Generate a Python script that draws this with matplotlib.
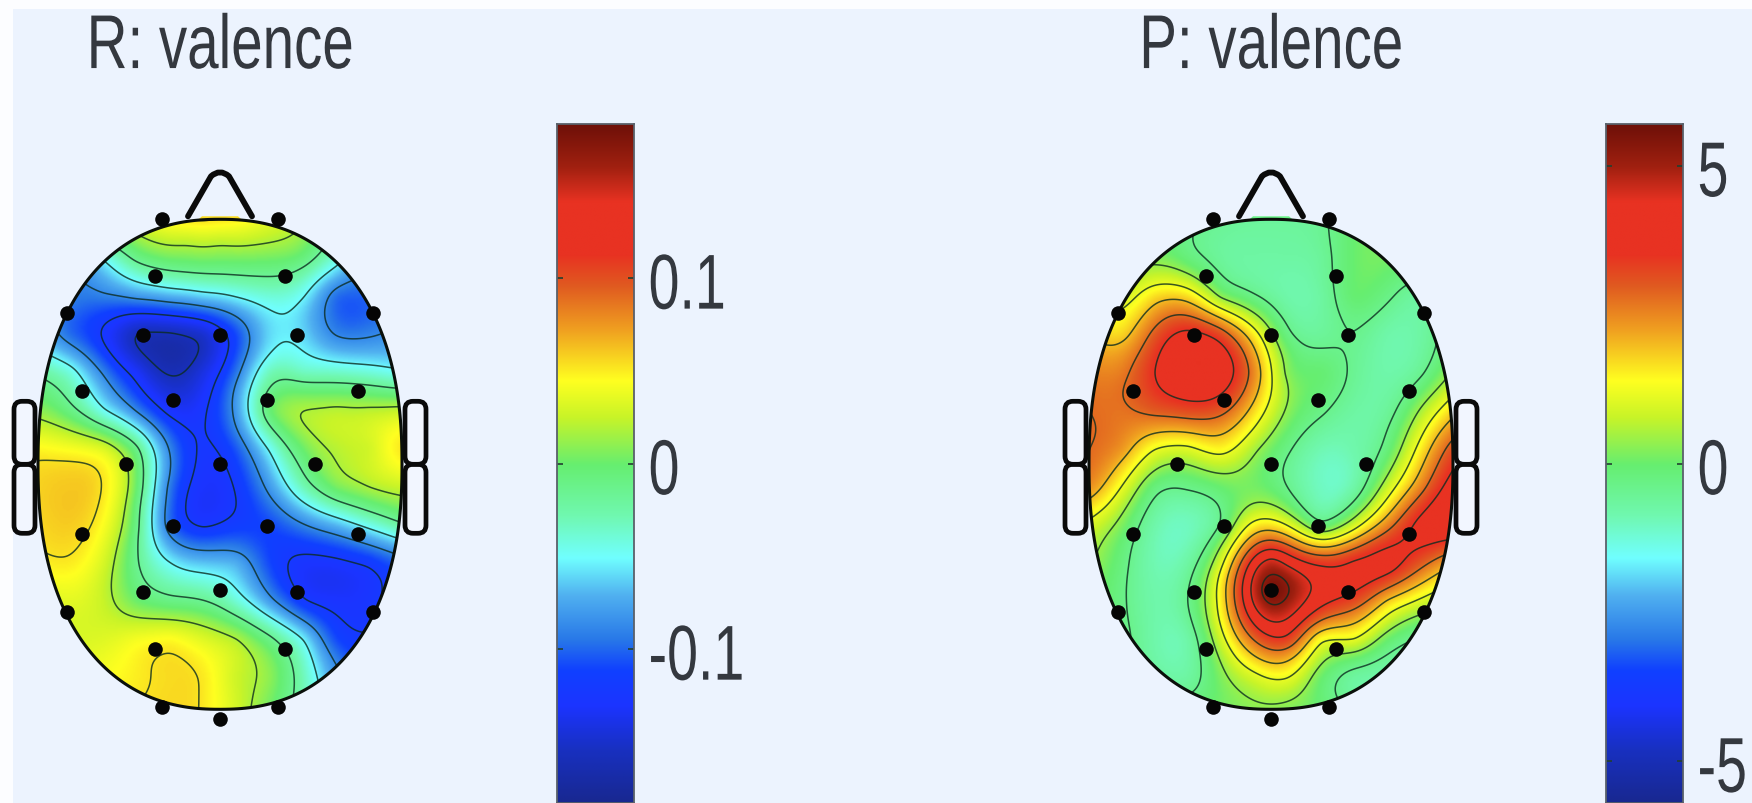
import numpy as np
import matplotlib
matplotlib.use("Agg")
import matplotlib.pyplot as plt
from matplotlib.colors import LinearSegmentedColormap, Normalize
from matplotlib.patches import FancyBboxPatch, Polygon, Rectangle, PathPatch
from matplotlib.path import Path
from matplotlib.patheffects import AbstractPathEffect
from matplotlib.transforms import Affine2D

W, H = 1752, 804
BG = "#ecf3fe"
TXT = "#34383f"
FONT = ["Liberation Sans", "DejaVu Sans"]

titles = ["R: valence", "P: valence"]
tick_vals_r = [-0.1, 0, 0.1]
tick_labs_r = ["-0.1", "0", "0.1"]
tick_vals_p = [-5, 0, 5]
tick_labs_p = ["-5", "0", "5"]
range_r = 0.183
range_p = 5.7

# electrode positions (offset from head centre, zoom units)
elec_x = [-175, 175, -195, 195, -460, 460, -232, 0, 232, -413, 415, -140, 140, -282, 0, 285,
          -413, 415, -140, 140, -232, 0, 232, -460, 460, -195, 195, -175, 175, 0]
elec_y = [640, 640, 492, 492, 395, 395, 337, 337, 337, 192, 192, 168, 168, 2, 2, 2,
          -183, -183, -162, -162, -333, -328, -333, -385, -385, -483, -483, -635, -635, -665]

# sampled field: columns offset -550..550, rows zoom y 210..1510
grid_cols = [-550, -450, -350, -250, -150, -50, 50, 150, 250, 350, 450, 550]
grid_rows = [210, 310, 410, 510, 610, 710, 810, 910, 1010, 1110, 1210, 1310, 1410, 1510]

r_valence = [  # in 0.01
    [2, 2, 3, 3.5, 5, 5.5, 5, 3.5, 2, -2, -6, -8],
    [-8, -8, -5, -1, 0.3, 0.6, 0.5, 0.3, -0.5, -4, -8, -10],
    [-8, -9, -9, -8, -7, -6, -5, -4, -5, -10, -10, -10],
    [-7, -10, -12.5, -16, -16, -15, -11, -6, -6, -9, -9, -8],
    [-2, -4, -9, -13, -16, -14, -9.5, -3, -3.5, -3.5, -4, -5],
    [1, -1, -5, -9, -13, -12.5, -8, 0, 1.8, 2.2, 2.2, 2.5],
    [4.7, 4.2, 3.3, -1, -9, -12.5, -10.5, -5, 0, 2, 2.6, 5.3],
    [5.7, 6, 5.1, 0, -9.5, -13, -12, -8, -3, 0.5, 1.8, 2.5],
    [5.5, 5.9, 4.3, -1, -10, -12.5, -11.5, -11, -9, -7, -4.5, -2],
    [4.8, 5, 3, -1.5, -5, -6.5, -7, -11, -12.8, -12.8, -12, -10],
    [3, 3.5, 2.5, 0, -1, -1.5, -4, -8, -12, -12.8, -12.5, -11],
    [3, 3, 3.3, 4.2, 4.7, 3.3, 2, -1, -5, -11, -12, -12],
    [4, 4, 4.3, 4.9, 5.4, 5.1, 2.5, 1, -3, -8, -10, -10],
    [5, 5, 5, 5.4, 5.5, 5.1, 2.8, 0, -3, -6, -8, -8],
]
# a few extra readings just below the top edge: offset x, zoom y, value
r_extra_x = [-100, 0, 100]
r_extra_y = [265, 265, 265]
r_extra_v = [0.022, 0.022, 0.022]

p_valence = [
    [0, 0, 0, -0.3, -0.5, -0.6, -0.6, -0.5, 0, 0.1, 0.1, 0.1],
    [0.3, 0.2, 0.2, -0.2, -0.6, -0.7, -0.7, -0.6, 0, 0.1, 0, 0],
    [1, 0.8, 1.7, 1.7, 0.2, -0.35, -0.8, -0.7, 0, -0.3, -0.7, 0],
    [2, 1.7, 3, 3.8, 3.2, 1.5, -0.3, -0.6, -0.4, -0.8, -0.7, 0],
    [2.6, 2.6, 3.6, 4.2, 4.1, 2.5, 0.2, 0, -0.5, -0.8, -0.5, 0.5],
    [2.8, 2.7, 3, 3.2, 3, 1.7, 0.3, -0.3, -0.7, -0.6, 0.5, 1.8],
    [2.8, 2.4, 1.2, 1, 1.5, 0.5, -0.3, -0.9, -0.8, -0.2, 1.5, 3.2],
    [2.5, 1.2, -0.2, -0.3, 0, 0.1, -0.4, -1, -0.8, 0.8, 2.5, 4],
    [1, 0.2, -0.8, -1, -0.4, 1.5, 1.2, -0.3, 0.9, 2.5, 3.9, 4.2],
    [0.5, -0.2, -0.9, -0.7, 1, 4, 4.2, 3.5, 3.8, 4, 3, 2],
    [0.2, -0.3, -0.8, -0.4, 1.5, 4.5, 5, 3.8, 3.2, 1.8, 1, 0.5],
    [0, -0.2, -0.8, -0.8, 0.9, 2.8, 3.4, 1.2, 1.2, 0, -0.5, -0.5],
    [0, -0.3, -0.6, -0.7, 0.2, 0.9, 1.2, 0, -0.7, -0.8, -0.6, -0.5],
    [0, -0.1, -0.2, 0, 0.1, 0.2, 0.1, 0, -0.3, -0.4, -0.4, -0.4],
]
# extra local extrema: offset x, zoom y, value
p_extra_x = [0, -233, 0]
p_extra_y = [1183, 580, 1100]
p_extra_v = [5.7, 4.4, 4.6]

# colormap stops
cmap_pos = [0, .077, .142, .195, .24, .305, .361, .423, .498, .568, .622, .697, .762, .808, .886, .938, 1]
cmap_col = ["#182890", "#1830c0", "#1c34ff", "#1040ff", "#2878e8", "#50b0f0", "#70ffff", "#70f8b0",
            "#66ee70", "#c8f428", "#ffff20", "#f0a020", "#e05a20", "#e83222", "#e83222", "#a02010", "#6e1008"]
cmap = LinearSegmentedColormap.from_list("bb", list(zip(cmap_pos, cmap_col)), N=512)

plt.rcParams["font.family"] = FONT
plt.rcParams["contour.negative_linestyle"] = "solid"
fig = plt.figure(figsize=(W / 100, H / 100), dpi=100, facecolor=BG)


class Stretch(AbstractPathEffect):
    """Draws text taller, as in the reference's resampled image."""

    def __init__(self, sy, dy=0.0):
        super().__init__()
        self.sy = sy
        self.dy = dy

    def draw_path(self, renderer, gc, tpath, affine, rgbFace=None):
        e = tpath.get_extents()
        c = 0.5 * (e.y0 + e.y1)
        tr = (Affine2D().translate(0, -c).scale(1, self.sy).translate(0, c) + affine
              + Affine2D().translate(0, -self.dy))
        renderer.draw_path(gc, tpath, tr, rgbFace)


def tps(x, y, v, xe, ye, lam=0.02):
    px = np.c_[x, y] / 100.0
    d = np.hypot(px[:, None, 0] - px[None, :, 0], px[:, None, 1] - px[None, :, 1])
    K = np.where(d > 0, d ** 2 * np.log(d + 1e-12), 0.0) + lam * np.eye(len(x))
    P = np.c_[np.ones(len(x)), px]
    A = np.block([[K, P], [P.T, np.zeros((3, 3))]])
    w = np.linalg.solve(A, np.r_[v, np.zeros(3)])
    out = np.zeros((len(ye), len(xe)))
    for i, yy in enumerate(ye):
        qx, qy = xe / 100.0, np.full_like(xe, yy / 100.0)
        r = np.hypot(qx[:, None] - px[:, 0], qy[:, None] - px[:, 1])
        k = np.where(r > 0, r ** 2 * np.log(r + 1e-12), 0.0)
        out[i] = k @ w[:len(x)] + w[len(x)] + w[len(x) + 1] * qx + w[len(x) + 2] * qy
    return out


CY = 465.3
RX, RY = 182.0, 245.0
ZX, ZY = 3.0, 2.613
t = np.linspace(0, 2 * np.pi, 361)
N_EXP = 2 / 2.3
head_x = RX * np.sign(np.cos(t)) * np.abs(np.cos(t)) ** N_EXP
head_y = RY * np.sign(np.sin(t)) * np.abs(np.sin(t)) ** N_EXP


def head(cx, title, rows, scale, rng, levels, ex=None, nose_v=0.0):
    ax = fig.add_axes([(cx - 220) / W, 0, 440 / W, 1])
    ax.patch.set_visible(False)
    gx, gy = np.meshgrid(np.array(grid_cols) / ZX, (850 - np.array(grid_rows)) / ZY)
    sx, sy, sv = gx.ravel(), gy.ravel(), np.array(rows, float).ravel() * scale
    if ex is not None:
        sx = np.r_[sx, np.array(ex[0]) / ZX]
        sy = np.r_[sy, (850 - np.array(ex[1])) / ZY]
        sv = np.r_[sv, ex[2]]
    xe = np.linspace(-190, 190, 300)
    ye = np.linspace(-262, 262, 400)
    z = tps(sx, sy, sv, xe, ye)
    norm = Normalize(-rng, rng)
    clip = Polygon(np.c_[head_x, head_y], closed=True, transform=ax.transData, fc="none", ec="none")
    ax.add_patch(clip)
    # ears, behind the head
    for x0 in (-202, 189):
        for y0, y1 in ((-69, 0), (0, 63)):
            ax.add_patch(FancyBboxPatch((x0, y0 + 4), 13, y1 - y0 - 8, boxstyle="round,pad=4,rounding_size=8",
                                        fc="#f2f6ff", ec="#0a0a0a", lw=3.4, zorder=1))
    ax.add_patch(Polygon(np.c_[head_x, head_y], closed=True, fc=BG, ec="none", zorder=1.2))
    im = ax.imshow(z, cmap=cmap, norm=norm, origin="lower", extent=[-190, 190, -262, 262],
                   aspect="auto", interpolation="bilinear", zorder=1.5)
    im.set_clip_path(clip)
    cs = ax.contour(xe, ye, z, levels=levels, colors="#0c2c20", linewidths=1.1, alpha=0.8, zorder=2)
    cs.set_clip_path(clip)
    # small piece of map below the nose
    ax.add_patch(Polygon([(-26, 241), (-18, 248), (18, 248), (26, 241)], fc=cmap(norm(nose_v)), ec="none", zorder=1.4))
    # outline
    ax.add_patch(Polygon(np.c_[head_x, head_y], closed=True, fc="none", ec="#0a0f0a", lw=2.2, zorder=3))
    # nose
    nose = Path([(-32, 248), (-9, 288), (0, 296), (9, 288), (32, 248)],
                [Path.MOVETO, Path.LINETO, Path.CURVE3, Path.CURVE3, Path.LINETO])
    ax.add_patch(PathPatch(nose, fc="none", ec="#0a0a0a", lw=4.2, capstyle="round", joinstyle="round", zorder=3))
    # electrodes
    ax.scatter(np.array(elec_x) / ZX, np.array(elec_y) / ZY, s=110, c="#050505", zorder=4, clip_on=False, linewidths=0)
    ax.set_xlim(-220, 220)
    ax.set_ylim(CY - H, CY)
    ax.axis("off")
    tt = ax.set_title(title, fontsize=40.7, color=TXT, y=1 - 47 / H, va="center", pad=0)
    tt.set_path_effects([Stretch(1.35)])
    return ax


def cbar(x0, x1, rng, vals, labs):
    ax = fig.add_axes([x0 / W, 0, (x1 - x0) / W, (H - 125) / H])
    grad = np.linspace(-rng, rng, 512)[:, None]
    ax.imshow(grad, cmap=cmap, norm=Normalize(-rng, rng), origin="lower", aspect="auto",
              extent=[0, 1, -rng, rng], interpolation="bilinear")
    ax.set_xlim(0, 1)
    ax.set_ylim(-rng, rng)
    ax.set_xticks([])
    ax.set_yticks(vals)
    ax.set_yticklabels(labs, fontsize=40, color=TXT)
    ax.yaxis.tick_right()
    ax.tick_params(axis="y", direction="in", length=4, width=1.2, color="#224030", left=True, right=True, pad=10.5)
    for lab in ax.get_yticklabels():
        lab.set_path_effects([Stretch(1.4, 3)])
    for s in ax.spines.values():
        s.set_linewidth(1.3)
        s.set_color("#59606a")
    return ax


head(220, titles[0], r_valence, 0.01, range_r, np.arange(-0.1575, 0.16, 0.035),
     ex=(r_extra_x, r_extra_y, r_extra_v), nose_v=0.055)
head(1271, titles[1], p_valence, 1.0, range_p, np.arange(-0.4, 5.7, 0.8),
     ex=(p_extra_x, p_extra_y, p_extra_v), nose_v=-0.3)
cbar(557, 634, range_r, tick_vals_r, tick_labs_r)
cbar(1606, 1683, range_p, tick_vals_p, tick_labs_p)

# pale scan margin along the top and the left
fig.add_artist(Rectangle((0, 1 - 10 / H), 1, 10 / H, transform=fig.transFigure, fc="#fcfdff", ec="none", zorder=-1))
fig.add_artist(Rectangle((0, 0), 13 / W, 1, transform=fig.transFigure, fc="#fcfdff", ec="none", zorder=-1))

fig.savefig("out.png", dpi=100, facecolor=BG)
